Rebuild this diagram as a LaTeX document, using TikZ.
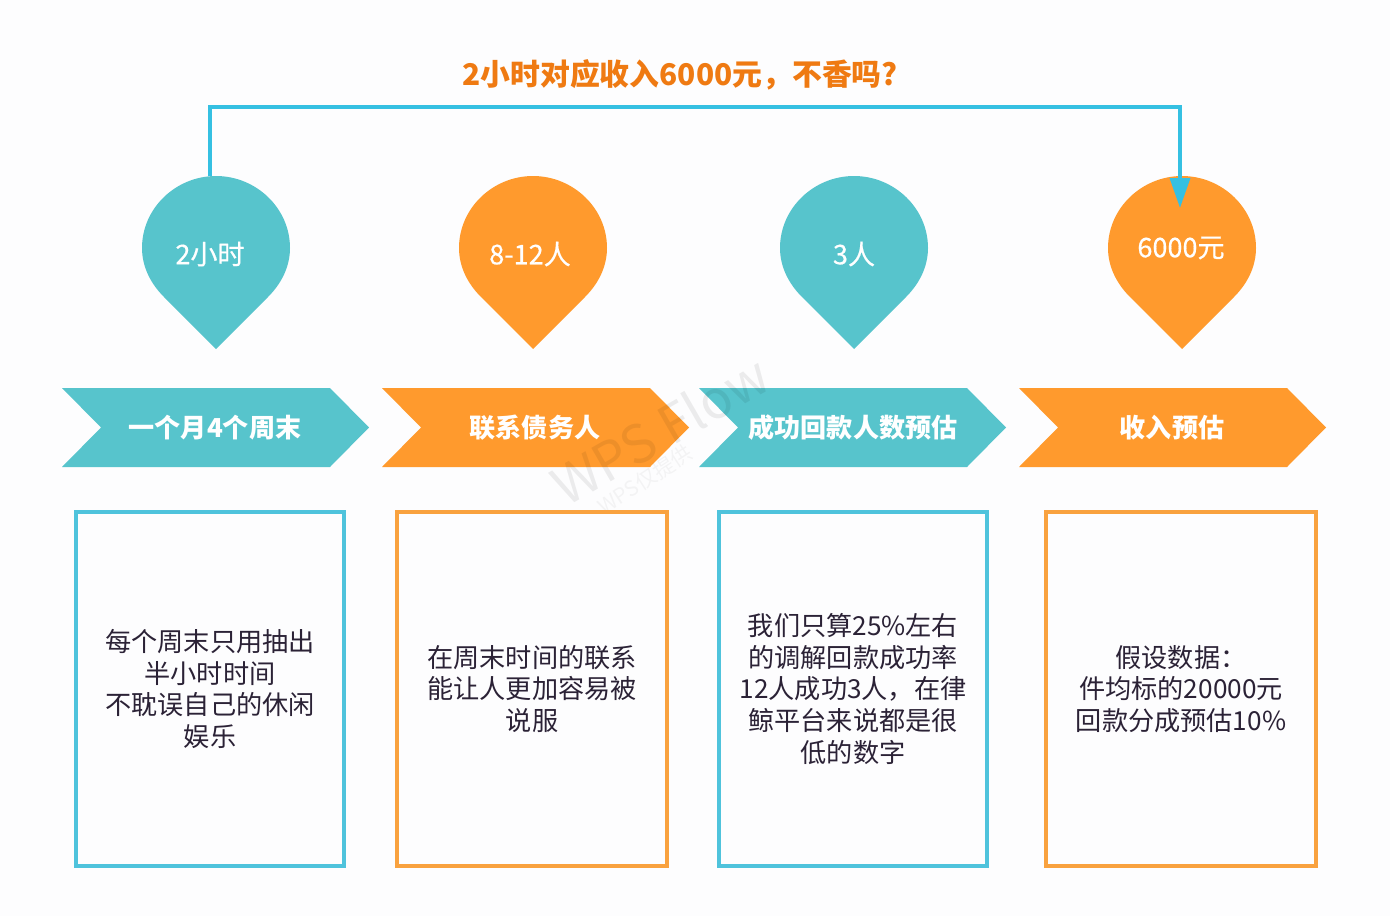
\documentclass[tikz,border=0pt]{standalone}
\usepackage{fontspec}
\setmainfont{Noto Sans CJK SC}
\newfontfamily\labelfont[FakeBold=0.5]{Noto Sans CJK SC}
\usetikzlibrary{arrows.meta}

\definecolor{paper}{HTML}{FDFDFE}
\definecolor{tealfill}{HTML}{57C4CC}
\definecolor{orangefill}{HTML}{FF9A2D}
\definecolor{tealline}{HTML}{4FC3DC}
\definecolor{orangeline}{HTML}{F9A23F}
\definecolor{railblue}{HTML}{35C0E2}
\definecolor{titleorange}{HTML}{EF7A12}
\definecolor{bodyink}{HTML}{2B2236}

\tikzset{
	droplabel/.style={text=white, font=\labelfont\fontsize{15.4}{18}\selectfont},
	chevlabel/.style={text=white, font=\fontsize{14.85}{18}\selectfont\bfseries},
	infobox/.style={draw, line width=2pt, minimum height=7.08cm, align=center, text=bodyink,
		font=\fontsize{14.9}{18.14}\selectfont},
}

% #1 name, #2 x, #3 colour
\newcommand{\dropshape}[3]{
	\begin{scope}[shift={(#2, 248)}]
		\fill[#3] (0, 101) -- (-52, 49) .. controls (-66, 35) and (-74, 18) .. (-74, 0)
			.. controls (-74, -40) and (-40, -72) .. (0, -72)
			.. controls (40, -72) and (74, -40) .. (74, 0)
			.. controls (74, 18) and (66, 35) .. (52, 49) -- cycle;
		\coordinate (#1) at (0, 0);
	\end{scope}
}
% #1 left x, #2 colour
\newcommand{\chevshape}[2]{
	\fill[#2] (#1, 388) -- ++(268, 0) -- ++(39, 39.5) -- ++(-39, 39.5) -- ++(-268, 0) -- ++(39, -39.5) -- cycle;
}

\begin{document}
\begin{tikzpicture}[x=0.02cm, y=-0.02cm]
	\useasboundingbox (0, 0) rectangle (1390, 916);
	\fill[color=paper] (0, 0) rectangle (1390, 916);

	\dropshape{drop1}{216}{tealfill}
	\dropshape{drop2}{533}{orangefill}
	\dropshape{drop3}{854}{tealfill}
	\dropshape{drop4}{1182}{orangefill}

	\chevshape{62}{tealfill}
	\chevshape{382}{orangefill}
	\chevshape{699}{tealfill}
	\chevshape{1019}{orangefill}

	% watermark
	\node[rotate=30, text=black, opacity=0.07, font=\fontsize{30}{30}\selectfont] (mark) at (660, 430) {WPS Flow};
	\node[rotate=33, text=black, opacity=0.04, font=\fontsize{12}{12}\selectfont] (marksub) at (645, 480) {WPS仅提供};

	\node[droplabel] (time) at (210, 254) {2小时};
	\node[droplabel] (people) at (530, 254) {8-12人};
	\node[droplabel] (success) at (854, 254) {3人};
	\node[droplabel] (income) at (1181, 248) {6000元};

	\node[chevlabel] (weekend) at (215, 428) {一个月4个周末};
	\node[chevlabel] (contact) at (535, 428) {联系债务人};
	\node[chevlabel] (estimate) at (853, 428) {成功回款人数预估};
	\node[chevlabel] (revenue) at (1172, 428) {收入预估};

	\node[infobox, color=tealline, text=bodyink, minimum width=5.36cm] (box1) at (210, 689)
		{每个周末只用抽出\\半小时时间\\不耽误自己的休闲\\娱乐};
	\node[infobox, color=orangeline, text=bodyink, minimum width=5.4cm] (box2) at (532, 689)
		{在周末时间的联系\\能让人更加容易被\\说服};
	\node[infobox, color=tealline, text=bodyink, minimum width=5.36cm] (box3) at (853, 689)
		{我们只算25\%左右\\的调解回款成功率\\12人成功3人，在律\\鲸平台来说都是很\\低的数字};
	\node[infobox, color=orangeline, text=bodyink, minimum width=5.4cm] (box4) at (1181, 689)
		{假设数据：\\件均标的20000元\\回款分成预估10\%};

	\node[text=titleorange, font=\fontsize{17}{18}\selectfont\bfseries] (headline) at (680, 75) {2小时对应收入6000元，不香吗?};

	\coordinate (railstart) at (210, 176);
	\coordinate (railend) at (1180, 208);
	\draw[color=railblue, line width=2pt, -{Triangle[length=0.6cm, width=0.4cm]}]
		(railstart) -- (210, 107) -- (1180, 107) -- (railend);
\end{tikzpicture}
\end{document}
